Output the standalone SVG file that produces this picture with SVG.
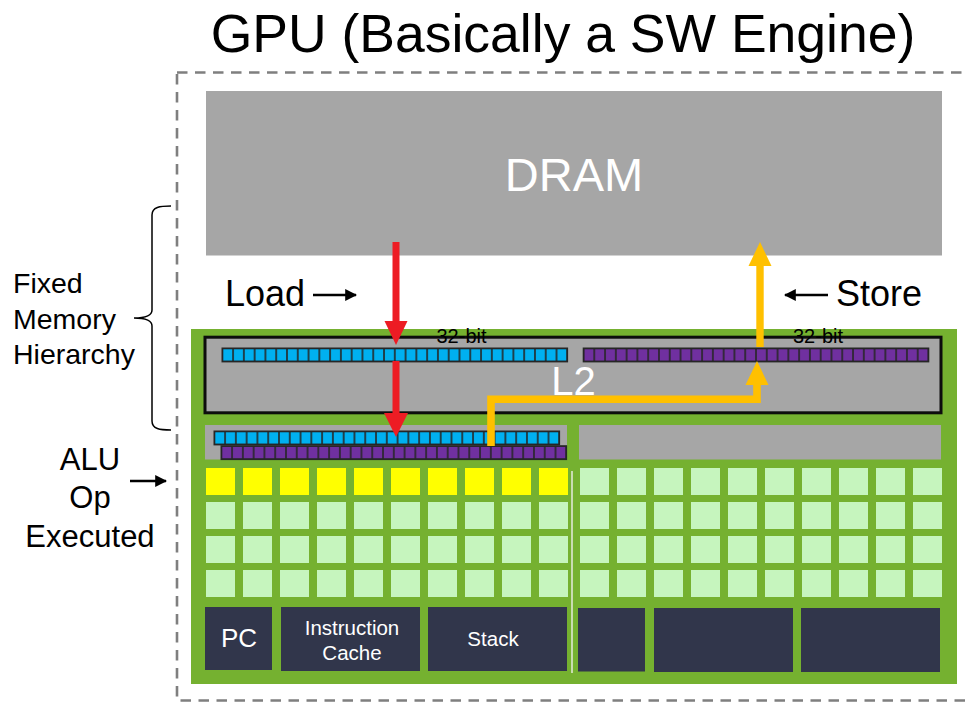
<svg xmlns="http://www.w3.org/2000/svg" width="966" height="703" viewBox="0 0 966 703">
<style>
  text { font-family: "Liberation Sans", Arial, sans-serif; }
  .lbl { fill: #000; }
  .wt { fill: #fff; }
  .gray { fill: #a6a6a6; }
  .dark { fill: #31364b; }
  .cellline { fill: none; stroke: #262626; stroke-width: 1.6; }
</style>
<defs>
  <pattern id="pBlue" patternUnits="userSpaceOnUse" width="10.78125" height="13.3">
    <rect width="10.78125" height="13.3" fill="#00b0f0" stroke="#262626" stroke-width="1.6"/>
  </pattern>
  <pattern id="pPurple" patternUnits="userSpaceOnUse" width="10.78125" height="13.3">
    <rect width="10.78125" height="13.3" fill="#7030a0" stroke="#262626" stroke-width="1.6"/>
  </pattern>
  <pattern id="pLight" patternUnits="userSpaceOnUse" width="37" height="34">
    <rect width="29" height="27" fill="#c6f5be"/>
  </pattern>
  <pattern id="pYellow" patternUnits="userSpaceOnUse" width="37" height="34">
    <rect width="29" height="27" fill="#ffff00"/>
  </pattern>
  <marker id="blackHead" viewBox="0 0 10 10" refX="9" refY="5" markerWidth="5" markerHeight="5" orient="auto" markerUnits="strokeWidth">
    <path d="M0,0 L10,5 L0,10 z" fill="#000"/>
  </marker>
</defs>

<!-- Title -->
<g id="title">
  <text x="563" y="52" font-size="53.5" text-anchor="middle" class="lbl">GPU (Basically a SW Engine)</text>
</g>

<!-- Dashed outer boundary -->
<g id="boundary">
  <rect x="177" y="72.5" width="800" height="628" fill="none" stroke="#7f7f7f" stroke-width="2.6" stroke-dasharray="10.5 7.5"/>
</g>

<!-- DRAM -->
<g id="dram">
  <rect x="206" y="91" width="736" height="164.5" class="gray"/>
  <text x="574" y="191" font-size="47" text-anchor="middle" class="wt">DRAM</text>
</g>

<!-- GPU green body -->
<g id="gpu">
  <rect x="191" y="329" width="766" height="355" fill="#75b130"/>
</g>

<!-- L2 cache -->
<g id="l2">
  <rect x="205" y="337.2" width="736" height="75.6" fill="#a6a6a6" stroke="#0d0d0d" stroke-width="3"/>
  <g transform="translate(222.3,348.3)">
    <rect width="345" height="13.3" fill="url(#pBlue)"/>
    <rect width="345" height="13.3" class="cellline"/>
  </g>
  <g transform="translate(583.5,348.3)">
    <rect width="345" height="13.3" fill="url(#pPurple)"/>
    <rect width="345" height="13.3" class="cellline"/>
  </g>
  <text x="573.5" y="395" font-size="40" text-anchor="middle" class="wt">L2</text>
</g>

<!-- Register file (left) -->
<g id="registers-left">
  <rect x="205" y="425" width="362" height="34.5" class="gray"/>
  <g transform="translate(214.3,431.3)">
    <rect width="345" height="13.3" fill="url(#pBlue)"/>
    <rect width="345" height="13.3" class="cellline"/>
  </g>
  <g transform="translate(221.3,446)">
    <rect width="345" height="13.3" fill="url(#pPurple)"/>
    <rect width="345" height="13.3" class="cellline"/>
  </g>
</g>

<!-- Register file (right) -->
<g id="registers-right">
  <rect x="579" y="425" width="362" height="34.5" class="gray"/>
</g>

<!-- ALU grid left -->
<g id="alu-left" transform="translate(206,468)">
  <rect width="362" height="129" fill="url(#pLight)"/>
  <rect width="362" height="27" fill="url(#pYellow)"/>
</g>

<!-- ALU grid right -->
<g id="alu-right" transform="translate(580,468)">
  <rect width="362" height="129" fill="url(#pLight)"/>
</g>

<!-- Divider -->
<g id="divider">
  <line x1="572" y1="471" x2="572" y2="673" stroke="#dfe8d3" stroke-width="1.6"/>
</g>

<!-- Bottom blocks -->
<g id="pc">
  <rect x="205" y="607" width="67" height="63" class="dark"/>
  <text x="239" y="647" font-size="26" text-anchor="middle" class="wt">PC</text>
</g>
<g id="icache">
  <rect x="281" y="607" width="139" height="64" class="dark"/>
  <text x="352" y="635" font-size="20.5" text-anchor="middle" class="wt">Instruction</text>
  <text x="352" y="659.5" font-size="20.5" text-anchor="middle" class="wt">Cache</text>
</g>
<g id="stack">
  <rect x="428" y="607" width="139" height="64" class="dark"/>
  <text x="493" y="646" font-size="20.5" text-anchor="middle" class="wt">Stack</text>
</g>
<g id="block4">
  <rect x="578" y="608" width="67" height="63.5" class="dark"/>
</g>
<g id="block5">
  <rect x="654" y="608" width="139" height="64" class="dark"/>
</g>
<g id="block6">
  <rect x="801" y="608" width="139" height="64" class="dark"/>
</g>

<!-- Side labels -->
<g id="memory-label">
  <text x="13" y="293" font-size="28.5" class="lbl">Fixed</text>
  <text x="13" y="329" font-size="28.5" class="lbl">Memory</text>
  <text x="13" y="364" font-size="28.5" class="lbl">Hierarchy</text>
  <path d="M171,206 C160,206 152,207 152,215 L152,310 C152,316 146,318 134,318 C146,318 152,320 152,326 L152,421 C152,429 160,430 171,430" fill="none" stroke="#000" stroke-width="1.5"/>
</g>
<g id="alu-label">
  <text x="90" y="470" font-size="31" text-anchor="middle" class="lbl">ALU</text>
  <text x="90" y="508" font-size="31" text-anchor="middle" class="lbl">Op</text>
  <text x="90" y="547" font-size="31" text-anchor="middle" class="lbl">Executed</text>
</g>
<g id="load-label">
  <text x="225" y="306" font-size="36" class="lbl">Load</text>
</g>
<g id="store-label">
  <text x="836" y="306" font-size="36" class="lbl">Store</text>
</g>
<g id="bit-labels">
  <text x="461.5" y="343" font-size="20" text-anchor="middle" class="lbl">32-bit</text>
  <text x="818" y="343" font-size="20" text-anchor="middle" class="lbl">32-bit</text>
</g>

<!-- Connectors -->
<g id="connectors">
  <!-- pointer arrows -->
  <line x1="313" y1="295" x2="356" y2="295" stroke="#000" stroke-width="2.4" marker-end="url(#blackHead)"/>
  <line x1="828" y1="295" x2="785" y2="295" stroke="#000" stroke-width="2.4" marker-end="url(#blackHead)"/>
  <line x1="130" y1="481" x2="166" y2="481" stroke="#000" stroke-width="2.4" marker-end="url(#blackHead)"/>

  <!-- Load: DRAM -> L2 -->
  <rect x="392.5" y="242" width="7" height="80" fill="#ed1c24"/>
  <polygon points="384.5,321 407.5,321 396,345" fill="#ed1c24"/>
  <!-- Load: L2 -> registers -->
  <rect x="392.5" y="361" width="7" height="53" fill="#ed1c24"/>
  <polygon points="384,413 408,413 396,437" fill="#ed1c24"/>

  <!-- Store: registers -> L2 -->
  <polyline points="491,446 491,399.3 757,399.3 757,384" fill="none" stroke="#ffc000" stroke-width="7.6" stroke-linejoin="miter"/>
  <polygon points="745.5,385 768.5,385 757,361" fill="#ffc000"/>
  <!-- Store: L2 -> DRAM -->
  <rect x="756.3" y="265" width="7.4" height="82" fill="#ffc000"/>
  <polygon points="748.5,266 771.5,266 760,242" fill="#ffc000"/>
</g>
</svg>
